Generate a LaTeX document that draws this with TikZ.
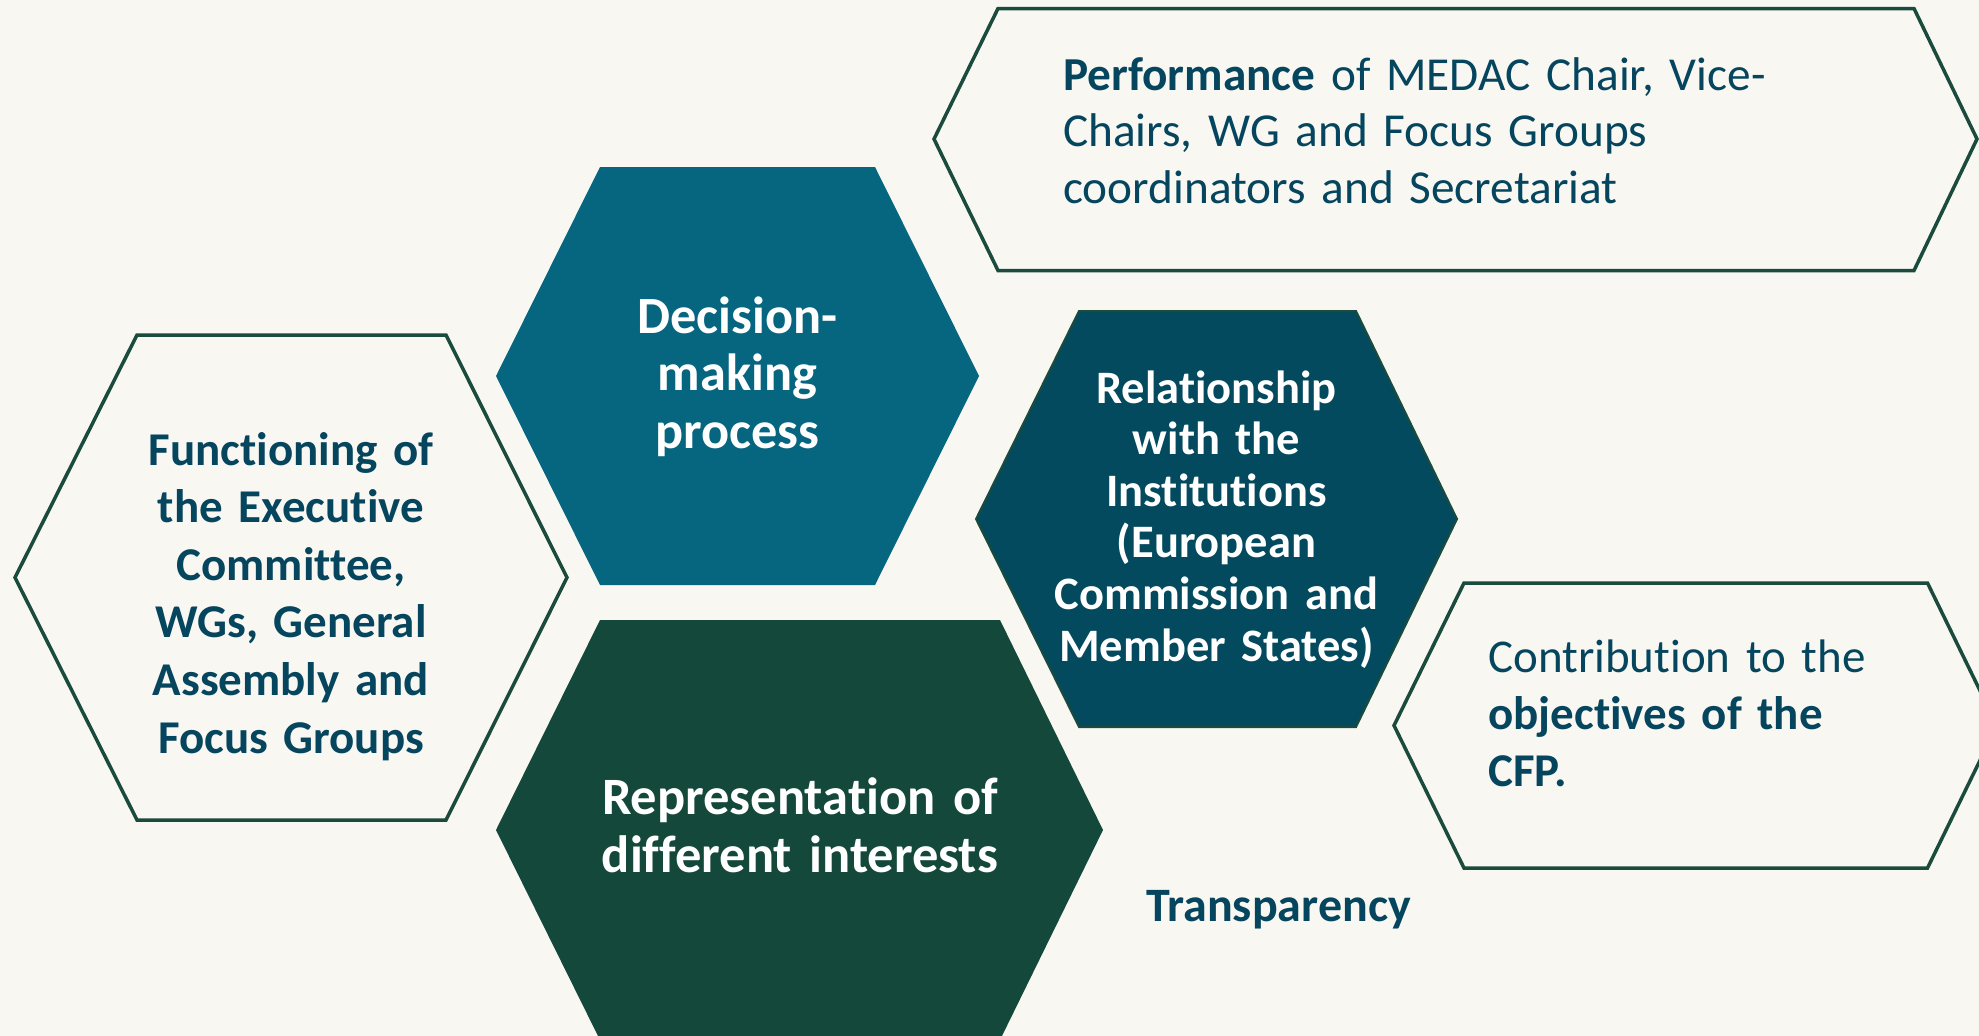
\documentclass[tikz,border=0pt]{standalone}
\usepackage{fontspec}
\setmainfont{Carlito}[Ligatures={NoCommon}]
\definecolor{bgcol}{HTML}{F8F7F2}
\definecolor{linegreen}{HTML}{1A4B3D}
\definecolor{txtteal}{HTML}{06455E}
\definecolor{decfill}{HTML}{06657F}
\definecolor{relfill}{HTML}{034A5E}
\definecolor{repfill}{HTML}{14483A}
\tikzset{
  hexline/.style={draw=linegreen, line width=3.5pt, line join=miter, fill=bgcol},
  whitetxt/.style={text=white, inner sep=0pt, align=center, anchor=base, text width=600pt},
  tealtxt/.style={text=txtteal, inner sep=0pt},
}
\begin{document}
\begin{tikzpicture}[x=1pt,y=-1pt]
\useasboundingbox (0,0) rectangle (1979,1036);
\fill[bgcol] (0,0) rectangle (1979,1036);
\clip (0,0) rectangle (1979,1036);
% hexagons
\draw[hexline] (934,139) -- (998,8.5) -- (1914,8.5) -- (1977,139) -- (1914,270.5) -- (998,270.5) -- cycle;
\fill[decfill] (496,376) -- (600,167) -- (875,167) -- (979,376) -- (875,585) -- (600,585) -- cycle;
\draw[hexline] (15,577.5) -- (137,335) -- (446,335) -- (567,577.5) -- (446,820) -- (137,820) -- cycle;
\draw[draw=linegreen, line width=2pt, fill=relfill] (976,519) -- (1079,311) -- (1356,311) -- (1457,519) -- (1356,727) -- (1079,727) -- cycle;
\fill[repfill] (496,830) -- (600,620) -- (1000,620) -- (1103,830) -- (1000,1040) -- (600,1040) -- cycle;
\draw[hexline] (1394,725.5) -- (1464,583) -- (1927.5,583) -- (1997,725.5) -- (1927.5,868) -- (1464,868) -- cycle;
% texts
\node[tealtxt, anchor=base west, align=left, text width=800pt, font=\fontsize{47.3}{56.5}\selectfont] (perf) at (1063,90)
  {\textbf{Performance} of MEDAC Chair, Vice-\\Chairs, WG and Focus Groups\\coordinators and Secretariat};
\node[whitetxt, font=\fontsize{52.3}{57.5}\selectfont\bfseries] (dec) at (737.5,333) {Decision-\\making\\process};
\node[tealtxt, align=center, anchor=base, text width=600pt, font=\fontsize{47}{57.6}\selectfont\bfseries] (func) at (291,465)
  {Functioning of\\the Executive\\Committee,\\WGs, General\\Assembly and\\Focus Groups};
\node[whitetxt, font=\fontsize{46.5}{51.6}\selectfont\bfseries] (rel) at (1216.5,403)
  {Relationship\\with the\\Institutions\\(European\\Commission and\\Member States)};
\node[whitetxt, font=\fontsize{52.5}{57.5}\selectfont\bfseries] (rep) at (800,814.5) {Representation of\\different interests};
\node[tealtxt, anchor=base west, align=left, text width=600pt, font=\fontsize{47}{57}\selectfont] (contrib) at (1488,672.6)
  {Contribution to the\\\textbf{objectives of the}\\\textbf{CFP.}};
\node[tealtxt, anchor=base west, font=\fontsize{48}{52}\selectfont\bfseries] (transp) at (1146,921) {Transparency};
\end{tikzpicture}
\end{document}
